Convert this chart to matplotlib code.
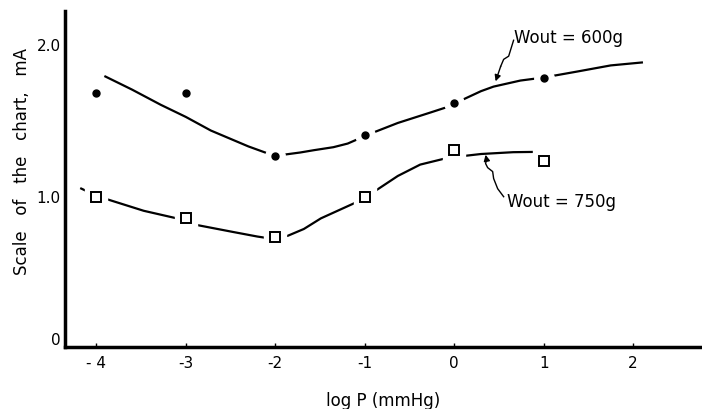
import numpy as np
import matplotlib.pyplot as plt
from matplotlib.ticker import FixedLocator

plt.rcParams['font.family'] = ['DejaVu Sans']

# measured points, log P (mmHg) vs chart scale (mA)
logp_600 = [-4, -3, -2, -1, 0, 1]
scale_600 = [1.68, 1.68, 1.265, 1.40, 1.61, 1.78]
logp_750 = [-4, -3, -2, -1, 0, 1]
scale_750 = [0.99, 0.855, 0.73, 0.99, 1.30, 1.23]

# hand-drawn trend curves
curve_600_x = [-3.91, -3.6, -3.28, -3.0, -2.72, -2.5, -2.3, -2.09, -2.0,
               -1.91, -1.72, -1.57, -1.35, -1.19, -1.07, -0.89, -0.63,
               -0.26, 0.0, 0.10, 0.30, 0.44, 0.74, 1.0, 1.38, 1.75, 2.11]
curve_600_y = [1.79, 1.70, 1.60, 1.52, 1.43, 1.375, 1.325, 1.28, 1.268,
               1.27, 1.285, 1.30, 1.32, 1.344, 1.375, 1.42, 1.48,
               1.55, 1.60, 1.635, 1.69, 1.72, 1.76, 1.78, 1.82, 1.86, 1.88]
curve_750_x = [-4.18, -4.0, -3.9, -3.47, -3.1, -2.91, -2.47, -2.2, -2.09,
               -2.0, -1.86, -1.68, -1.49, -1.08, -0.86, -0.63, -0.38, -0.07,
               0.30, 0.66, 1.05]
curve_750_y = [1.05, 1.0, 0.98, 0.90, 0.85, 0.81, 0.76, 0.73, 0.72,
               0.72, 0.735, 0.78, 0.85, 0.96, 1.04, 1.13, 1.205, 1.25,
               1.275, 1.287, 1.29]

# wavy leader lines for the labels
lead_600_x = [0.664, 0.609, 0.553, 0.52, 0.463]
lead_600_y = [2.026, 1.921, 1.90, 1.854, 1.755]
lead_750_x = [0.553, 0.486, 0.441, 0.430, 0.374, 0.351, 0.362, 0.351]
lead_750_y = [0.993, 1.046, 1.113, 1.159, 1.185, 1.212, 1.238, 1.27]

x_ticks = [-4, -3, -2, -1, 0, 1, 2]
x_labels = ['- 4', '-3', '-2', '-1', '0', '1', '2']
y_ticks = [0, 1.0, 2.0]
y_labels = ['0', '1.0', '2.0']

fig = plt.figure(figsize=(7.02, 4.10), dpi=100)
ax = fig.add_axes([0.0926, 0.151, 0.9074, 0.82])

for cx, cy in [(curve_600_x, curve_600_y), (curve_750_x, curve_750_y)]:
    ax.plot(cx, cy, color='black', lw=1.6, zorder=2,
            solid_capstyle='butt', solid_joinstyle='round')

# white halos break the curves around each marker
ax.plot(logp_600, scale_600, 'o', color='white', ms=14, zorder=3)
ax.plot(logp_750, scale_750, 's', color='white', ms=16, zorder=3)
ax.plot(logp_600, scale_600, 'o', color='black', ms=5, zorder=4)
ax.plot(logp_750, scale_750, 's', mfc='white', mec='black', mew=1.4,
        ms=6.5, zorder=4)

# labels with squiggly arrows
for lx, ly in [(lead_600_x, lead_600_y), (lead_750_x, lead_750_y)]:
    ax.plot(lx[:-1], ly[:-1], color='black', lw=1, zorder=5)
    ax.annotate('', xy=(lx[-1], ly[-1]), xytext=(lx[-2], ly[-2]),
                arrowprops=dict(arrowstyle='-|>', color='black', lw=1,
                                shrinkA=0, shrinkB=0, mutation_scale=9),
                zorder=5)
ax.text(0.664, 2.05, 'Wout = 600g', fontsize=12, ha='left', va='center')
ax.text(0.586, 0.967, 'Wout = 750g', fontsize=12, ha='left', va='center')

ax.set_xlim(-4.35, 2.77)
ax.set_ylim(0, 2.22)
ax.xaxis.set_major_locator(FixedLocator(x_ticks))
ax.set_xticklabels(x_labels)
ax.yaxis.set_major_locator(FixedLocator(y_ticks))
ax.set_yticklabels(y_labels)
ax.tick_params(axis='x', direction='in', length=3, width=1, pad=6,
               labelsize=11)
ax.tick_params(axis='y', length=0, pad=3, labelsize=11)
ax.get_yticklabels()[0].set_verticalalignment('bottom')

for side in ['top', 'right']:
    ax.spines[side].set_visible(False)
ax.spines['left'].set_linewidth(2.5)
ax.spines['bottom'].set_linewidth(2.5)

ax.set_xlabel('log P (mmHg)', fontsize=12)
ax.xaxis.label.set_verticalalignment('center')
ax.xaxis.set_label_coords(0.5, -0.158)
ax.set_ylabel('Scale   of   the   chart,   mA', fontsize=12)
ax.yaxis.label.set_verticalalignment('center')
ax.yaxis.set_label_coords(-0.0675, 0.556)

fig.savefig('out.png', dpi=100)
